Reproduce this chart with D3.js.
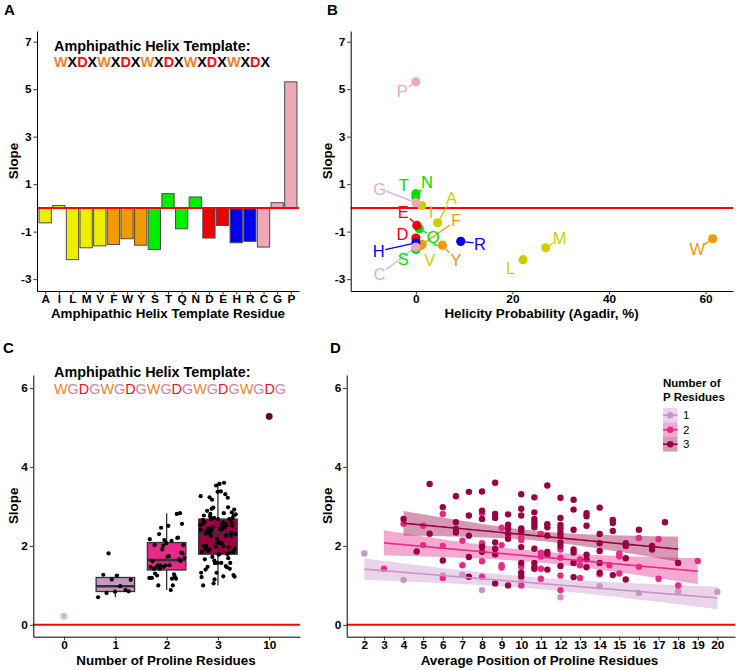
<!DOCTYPE html>
<html>
<head>
<meta charset="utf-8">
<script src="https://cdn.jsdelivr.net/npm/d3@7"></script>
<style>
  body { margin: 0; background: #fff; }
  svg { display: block; font-family: "Liberation Sans", Arial, sans-serif; }
</style>
</head>
<body>
<script>
// ---- panel A / B data: one value per template residue ----
const residues = ["A","I","L","M","V","F","W","Y","S","T","Q","N","D","E","H","R","C","G","P"];
const slopes   = [-0.63, 0.10, -2.18, -1.68, -1.60, -1.54, -1.30, -1.57, -1.75, 0.60, -0.88, 0.46, -1.27, -0.74, -1.47, -1.41, -1.65, 0.22, 5.31];
const helicity = [4.5, 1.2, 22.2, 26.9, 0.9, 1.3, 61.5, 5.5, 0, 0, 0.7, 0, 0, 0.2, 0, 9.3, 0, 0, 0];
const residueClass = {
  A: "hyd", I: "hyd", L: "hyd", M: "hyd", V: "hyd",
  F: "aro", W: "aro", Y: "aro",
  S: "pol", T: "pol", Q: "pol", N: "pol",
  D: "acid", E: "acid", H: "base", R: "base",
  C: "spec", G: "spec", P: "spec"
};
const yTicksAB = [-3, -1, 1, 3, 5, 7];
const xTicksB = [0, 20, 40, 60];

// ---- panel C / D data: [average proline position, slope] ----
const pro1 = [[2,1.81],[4,1.14],[6,1.25],[7,1.27],[8,0.88],[10,1.15],[12,0.70],[14,0.98],[16,0.81],[18,0.85],[20,0.84]];
const pro2 = [[3,1.42],[4,2.56],[5,2.51],[5,2.02],[6,2.81],[6,2.00],[6,1.19],[7,2.13],[7,1.51],
  [8,2.83],[8,2.07],[8,1.61],[8,1.22],[9,2.46],[9,2.02],[9,1.51],[9,1.45],
  [10,2.21],[10,2.15],[10,1.47],[10,1.00],[11,2.30],[11,1.83],[11,1.73],[11,1.42],[11,1.17],
  [12,1.91],[12,1.70],[12,0.88],[12,1.25],[13,1.66],[13,1.51],[13,1.19],[14,1.28],[14.5,1.51],
  [15,1.81],[15,1.74],[15,1.30],[16,2.20],[16,1.47],[17,2.17],[17,1.17],[18,1.00],[19,1.62]];
const pro3 = [[4,2.68],[4.67,1.86],[5.33,3.57],[5.33,2.31],[6,2.98],[6,1.63],
  [6.67,3.26],[6.67,2.60],[6.67,2.43],[6.67,2.34],
  [7.33,3.37],[7.33,2.77],[7.33,2.26],[7.33,1.72],[7.33,1.22],
  [8,3.38],[8,2.89],[8,2.68],[8,1.98],[8,1.85],
  [8.67,3.60],[8.67,2.81],[8.67,2.71],[8.67,2.09],[8.67,1.93],[8.67,1.79],[8.67,1.05],
  [9.33,2.80],[9.33,2.54],[9.33,2.44],[9.33,2.31],[9.33,2.18],[9.33,1.00],
  [10,3.31],[10,2.94],[10,2.77],[10,2.44],[10,2.36],[10,1.97],[10,1.57],[10,1.32],[10,1.23],
  [10.67,3.23],[10.67,2.85],[10.67,2.68],[10.67,2.61],[10.67,2.53],[10.67,2.47],[10.67,1.93],[10.67,1.57],[10.67,1.47],[10.67,1.42],
  [11.33,3.53],[11.33,2.55],[11.33,2.47],[11.33,2.26],[11.33,1.85],[11.33,1.79],[11.33,1.40],
  [12,3.22],[12,2.71],[12,2.53],[12,2.44],[12,2.34],[12,2.26],[12,2.09],[12,2.00],[12,1.49],
  [12.67,3.17],[12.67,2.92],[12.67,2.41],[12.67,1.91],[12.67,1.83],[12.67,1.57],[12.67,1.21],
  [13.33,2.83],[13.33,2.75],[13.33,2.51],[13.33,1.78],[13.33,1.66],[13.33,1.46],
  [14,2.97],[14,2.30],[14,2.07],[14,1.87],[14,1.57],[14,1.32],
  [14.67,2.66],[14.67,2.58],[14.67,2.38],[14.67,1.26],
  [15.33,2.07],[15.33,2.00],[15.33,1.69],[15.33,1.15],
  [16,2.41],[16.67,2.00],[16.67,1.91],[17.33,2.60],[18,1.57]];
const pro0Slope = 0.22;   // template with no proline
const pro10Slope = 5.28;  // all-proline (10 P)
const prolineCounts = ["0", "1", "2", "3", "10"];
const yTicksCD = [0, 2, 4, 6];
const xTicksD = d3.range(2, 21);

// ---- styles / layout ----
const barColor = { hyd: "#EEEE00", aro: "#EE9A00", pol: "#00EE00", acid: "#EE0000", base: "#0000EE", spec: "#EEA9B8" };
const dotColor = { hyd: "#CDCD00", aro: "#EE9A00", pol: "#00E000", acid: "#EE0000", base: "#0000EE", spec: "#EEA9B8" };
const proColor = { "0": "#D4B9DA", "1": "#C994C7", "2": "#E7298A", "3": "#980043", "10": "#67001F" };
// ggrepel-style label spots for panel B, in data units
const labelSpot = {
  A: [7.4, 0.42], I: [3.2, -0.18], L: [19.6, -2.52], M: [29.8, -1.29], V: [2.9, -2.2],
  F: [8.4, -0.53], W: [58.3, -1.75], Y: [8.3, -2.2], S: [-2.6, -2.14], T: [-2.5, 0.95],
  Q: [3.6, -1.22], N: [2.3, 1.09], D: [-2.8, -1.09], E: [-2.6, -0.17], H: [-7.7, -1.82],
  R: [13.3, -1.51], C: [-7.5, -2.8], G: [-7.5, 0.81], P: [-2.8, 4.9]
};

const W = 736, H = 670;
const FONT = '"Liberation Sans", Arial, sans-serif';

const svg = d3.select("body").append("svg")
    .attr("width", W)
    .attr("height", H)
    .attr("viewBox", [0, 0, W, H]);
svg.append("rect").attr("width", W).attr("height", H).attr("fill", "#fff");

function styleAxis(g) {
  g.select(".domain").attr("stroke", "#000").attr("stroke-width", 1);
  g.selectAll(".tick line").attr("stroke", "#333").attr("stroke-width", 1);
  g.selectAll(".tick text")
      .attr("fill", "#000")
      .attr("font-family", FONT)
      .attr("font-weight", "bold")
      .attr("font-size", 11.8);
}
// plain hyphen minus, no decimals, like R's labels
const plain = d => String(d);
function bottomAxis(scale, y, ticks) {
  const ax = d3.axisBottom(scale).tickSize(3.5).tickSizeOuter(0).tickPadding(0.5).tickFormat(plain);
  if (ticks) ax.tickValues(ticks);
  svg.append("g").attr("transform", `translate(0,${y})`).call(ax).call(styleAxis);
}
function leftAxis(scale, x, ticks) {
  const ax = d3.axisLeft(scale).tickValues(ticks).tickSize(3.5).tickSizeOuter(0).tickPadding(2).tickFormat(plain);
  svg.append("g").attr("transform", `translate(${x},0)`).call(ax).call(styleAxis);
}
function text(x, y, str, opts = {}) {
  return svg.append("text")
      .attr("x", x).attr("y", y)
      .attr("font-family", FONT)
      .attr("font-size", opts.size || 13.4)
      .attr("font-weight", opts.weight || "bold")
      .attr("text-anchor", opts.anchor || "start")
      .attr("fill", opts.fill || "#000")
      .text(str);
}
function yTitle(x, y, str) {
  svg.append("text")
      .attr("transform", `translate(${x},${y}) rotate(-90)`)
      .attr("font-family", FONT).attr("font-size", 13.4).attr("font-weight", "bold")
      .attr("text-anchor", "middle").text(str);
}
function template(x, y, seq, colors, weight) {
  const t = svg.append("text").attr("x", x).attr("y", y)
      .attr("font-family", FONT).attr("font-size", 14.4).attr("font-weight", weight);
  t.selectAll("tspan").data(seq.split("")).join("tspan")
      .attr("fill", c => colors[c] || "#000")
      .text(c => c);
}

// ================= Panel A =================
const pA = { l: 37, r: 299, t: 31, b: 291 };
const xA = d3.scalePoint().domain(residues).range([pA.l, pA.r]).padding(0.6);
const yA = d3.scaleLinear().domain([-3.5, 7.45]).range([pA.b, pA.t]);
const bw = xA.step() * 0.9;

svg.append("g")
  .selectAll("rect")
  .data(residues)
  .join("rect")
    .attr("x", d => xA(d) - bw / 2)
    .attr("y", (d, i) => yA(Math.max(0, slopes[i])))
    .attr("width", bw)
    .attr("height", (d, i) => Math.abs(yA(slopes[i]) - yA(0)))
    .attr("fill", d => barColor[residueClass[d]])
    .attr("stroke", "#4d4d4d")
    .attr("stroke-width", 1);

svg.append("line")
    .attr("x1", pA.l).attr("x2", pA.r)
    .attr("y1", yA(0)).attr("y2", yA(0))
    .attr("stroke", "red").attr("stroke-width", 2);

leftAxis(yA, pA.l, yTicksAB);
bottomAxis(xA, pA.b);
yTitle(18, (pA.t + pA.b) / 2, "Slope");
text((pA.l + pA.r) / 2, 318, "Amphipathic Helix Template Residue", { anchor: "middle" });
text(54, 50.5, "Amphipathic Helix Template:", { size: 14.4 });
template(54, 67, "WXDXWXDXWXDXWXDXWXDX", { W: "#F07F2D", D: "#F01010", X: "#000" }, "bold");
text(4, 15, "A", { size: 15 });

// ================= Panel B =================
const pB = { l: 350.7, r: 733, t: 31, b: 291 };
const xB = d3.scaleLinear().domain([-13.5, 65.7]).range([pB.l, pB.r]);
const yB = d3.scaleLinear().domain([-3.5, 7.45]).range([pB.b, pB.t]);

svg.append("line")
    .attr("x1", pB.l).attr("x2", pB.r)
    .attr("y1", yB(0)).attr("y2", yB(0))
    .attr("stroke", "red").attr("stroke-width", 2);

const bPts = residues.map((r, i) => ({ r, x: xB(helicity[i]), y: yB(slopes[i]),
  lx: xB(labelSpot[r][0]), ly: yB(labelSpot[r][1]), c: dotColor[residueClass[r]] }));

// label-to-point segments, clipped at the label box and the dot
bPts.forEach(p => {
  const dx = p.x - p.lx, dy = p.y - p.ly;
  const len = Math.hypot(dx, dy);
  if (len < 1) return;
  const hw = 6.5, hh = 7.5;
  const t0 = Math.min(dx ? hw / Math.abs(dx) : Infinity, dy ? hh / Math.abs(dy) : Infinity);
  const t1 = 1 - 4.5 / len;
  if ((t1 - t0) * len < 4) return;
  svg.append("line")
      .attr("x1", p.lx + dx * t0).attr("y1", p.ly + dy * t0)
      .attr("x2", p.lx + dx * t1).attr("y2", p.ly + dy * t1)
      .attr("stroke", p.c).attr("stroke-width", 1.3);
});

svg.append("g")
  .selectAll("circle")
  .data(bPts)
  .join("circle")
    .attr("cx", d => d.x).attr("cy", d => d.y)
    .attr("r", 4.6)
    .attr("fill", d => d.c);

svg.append("g")
  .selectAll("text")
  .data(bPts)
  .join("text")
    .attr("x", d => d.lx).attr("y", d => d.ly)
    .attr("dy", "0.36em")
    .attr("text-anchor", "middle")
    .attr("font-family", FONT)
    .attr("font-size", 16.5)
    .attr("fill", d => d.c)
    .text(d => d.r);

leftAxis(yB, pB.l, yTicksAB);
bottomAxis(xB, pB.b, xTicksB);
yTitle(331.5, (pB.t + pB.b) / 2, "Slope");
text(541.5, 318, "Helicity Probability (Agadir, %)", { anchor: "middle" });
text(327, 15, "B", { size: 15 });

// ================= Panel C =================
const pC = { l: 33.3, r: 300, t: 375, b: 636.7 };
const xC = d3.scalePoint().domain(prolineCounts).range([pC.l, pC.r]).padding(0.6);
const yC = d3.scaleLinear().domain([-0.3, 6.33]).range([pC.b, pC.t]);

svg.append("line")
    .attr("x1", pC.l).attr("x2", pC.r)
    .attr("y1", yC(0)).attr("y2", yC(0))
    .attr("stroke", "red").attr("stroke-width", 2);

function boxStats(vals) {
  const v = vals.slice().sort(d3.ascending);
  const q1 = d3.quantileSorted(v, 0.25), med = d3.quantileSorted(v, 0.5), q3 = d3.quantileSorted(v, 0.75);
  const iqr = q3 - q1;
  return { q1, med, q3,
    lo: d3.min(v.filter(x => x >= q1 - 1.5 * iqr)),
    hi: d3.max(v.filter(x => x <= q3 + 1.5 * iqr)) };
}

const groups = [["1", pro1], ["2", pro2], ["3", pro3]];
const boxW = xC.step() * 0.75;
groups.forEach(([k, pts]) => {
  const s = boxStats(pts.map(d => d[1]));
  const cx = xC(k);
  const g = svg.append("g");
  g.append("line").attr("x1", cx).attr("x2", cx).attr("y1", yC(s.hi)).attr("y2", yC(s.q3))
      .attr("stroke", "#333").attr("stroke-width", 1.3);
  g.append("line").attr("x1", cx).attr("x2", cx).attr("y1", yC(s.q1)).attr("y2", yC(s.lo))
      .attr("stroke", "#333").attr("stroke-width", 1.3);
  g.append("rect")
      .attr("x", cx - boxW / 2).attr("width", boxW)
      .attr("y", yC(s.q3)).attr("height", yC(s.q1) - yC(s.q3))
      .attr("fill", proColor[k]).attr("stroke", "#333").attr("stroke-width", 1.3);
  g.append("line").attr("x1", cx - boxW / 2).attr("x2", cx + boxW / 2)
      .attr("y1", yC(s.med)).attr("y2", yC(s.med))
      .attr("stroke", "#333").attr("stroke-width", 2.6);
});

// jittered points, deterministic golden-ratio spread instead of random jitter
groups.forEach(([k, pts]) => {
  svg.append("g")
    .selectAll("circle")
    .data(pts)
    .join("circle")
      .attr("cx", (d, i) => xC(k) + (((i * 0.618034 + 0.31) % 1) - 0.5) * 0.7 * xC.step())
      .attr("cy", d => yC(d[1]))
      .attr("r", 2.1)
      .attr("fill", "#000");
});

svg.append("g")
  .selectAll("circle")
  .data([["0", pro0Slope], ["10", pro10Slope]])
  .join("circle")
    .attr("cx", d => xC(d[0])).attr("cy", d => yC(d[1]))
    .attr("r", 3.4)
    .attr("fill", d => proColor[d[0]]);

leftAxis(yC, pC.l, yTicksCD);
bottomAxis(xC, pC.b);
yTitle(18, (pC.t + pC.b) / 2, "Slope");
text(166, 665, "Number of Proline Residues", { anchor: "middle" });
text(54, 377, "Amphipathic Helix Template:", { size: 14.4 });
template(54, 393.5, "WGDGWGDGWGDGWGDGWGDG", { W: "#F07F2D", D: "#F01010", G: "#CC8A9B" }, "normal");
text(3, 353, "C", { size: 15 });

// ================= Panel D =================
const pD = { l: 346.7, r: 735, t: 375, b: 636.7 };
const xD = d3.scaleLinear().domain([1.1, 20.9]).range([pD.l, pD.r]);
const yD = yC.copy();

svg.append("line")
    .attr("x1", pD.l).attr("x2", pD.r)
    .attr("y1", yD(0)).attr("y2", yD(0))
    .attr("stroke", "red").attr("stroke-width", 2);

function tQuant975(df) {
  const z = 1.959964;
  return z + (z ** 3 + z) / (4 * df) + (5 * z ** 5 + 16 * z ** 3 + 3 * z) / (96 * df * df)
    + (3 * z ** 7 + 19 * z ** 5 + 17 * z ** 3 - 15 * z) / (384 * df ** 3);
}
function fitLine(pts) {
  const n = pts.length;
  const mx = d3.mean(pts, d => d[0]), my = d3.mean(pts, d => d[1]);
  const sxx = d3.sum(pts, d => (d[0] - mx) ** 2);
  const b = d3.sum(pts, d => (d[0] - mx) * (d[1] - my)) / sxx, a = my - b * mx;
  const s = Math.sqrt(d3.sum(pts, d => (d[1] - a - b * d[0]) ** 2) / (n - 2));
  const t = tQuant975(n - 2);
  const [x0, x1] = d3.extent(pts, d => d[0]);
  return d3.range(81).map(i => {
    const x = x0 + (x1 - x0) * i / 80, yh = a + b * x;
    const se = s * Math.sqrt(1 / n + (x - mx) ** 2 / sxx);
    return { x, y: yh, lo: yh - t * se, hi: yh + t * se };
  });
}

const fits = groups.map(([k, pts]) => [k, fitLine(pts)]);
const band = d3.area().x(d => xD(d.x)).y0(d => yD(d.lo)).y1(d => yD(d.hi));
const trend = d3.line().x(d => xD(d.x)).y(d => yD(d.y));

fits.forEach(([k, f]) => {
  svg.append("path").attr("d", band(f)).attr("fill", proColor[k]).attr("fill-opacity", 0.4);
});
groups.forEach(([k, pts]) => {
  svg.append("g")
    .selectAll("circle")
    .data(pts)
    .join("circle")
      .attr("cx", d => xD(d[0])).attr("cy", d => yD(d[1]))
      .attr("r", 3.2)
      .attr("fill", proColor[k]);
});
fits.forEach(([k, f]) => {
  svg.append("path").attr("d", trend(f)).attr("fill", "none")
      .attr("stroke", proColor[k]).attr("stroke-width", 1.6);
});

leftAxis(yD, pD.l, yTicksCD);
bottomAxis(xD, pD.b, xTicksD);
yTitle(331.5, (pD.t + pD.b) / 2, "Slope");
text(539.5, 665, "Average Position of Proline Residues", { anchor: "middle" });
text(330, 353, "D", { size: 15 });

// legend
text(663, 387, "Number of", { size: 11.5 });
text(663, 401, "P Residues", { size: 11.5 });
const leg = svg.append("g").attr("transform", "translate(663,408)");
["1", "2", "3"].forEach((k, i) => {
  const g = leg.append("g").attr("transform", `translate(0,${i * 14.5})`);
  g.append("rect").attr("width", 14.5).attr("height", 14.5)
      .attr("fill", proColor[k]).attr("fill-opacity", 0.4);
  g.append("line").attr("x1", 0).attr("x2", 14.5).attr("y1", 7.25).attr("y2", 7.25)
      .attr("stroke", proColor[k]).attr("stroke-width", 1.6);
  g.append("circle").attr("cx", 7.25).attr("cy", 7.25).attr("r", 3.2).attr("fill", proColor[k]);
  g.append("text").attr("x", 20).attr("y", 7.25).attr("dy", "0.36em")
      .attr("font-family", FONT).attr("font-size", 11.5).text(k);
});
</script>
</body>
</html>
